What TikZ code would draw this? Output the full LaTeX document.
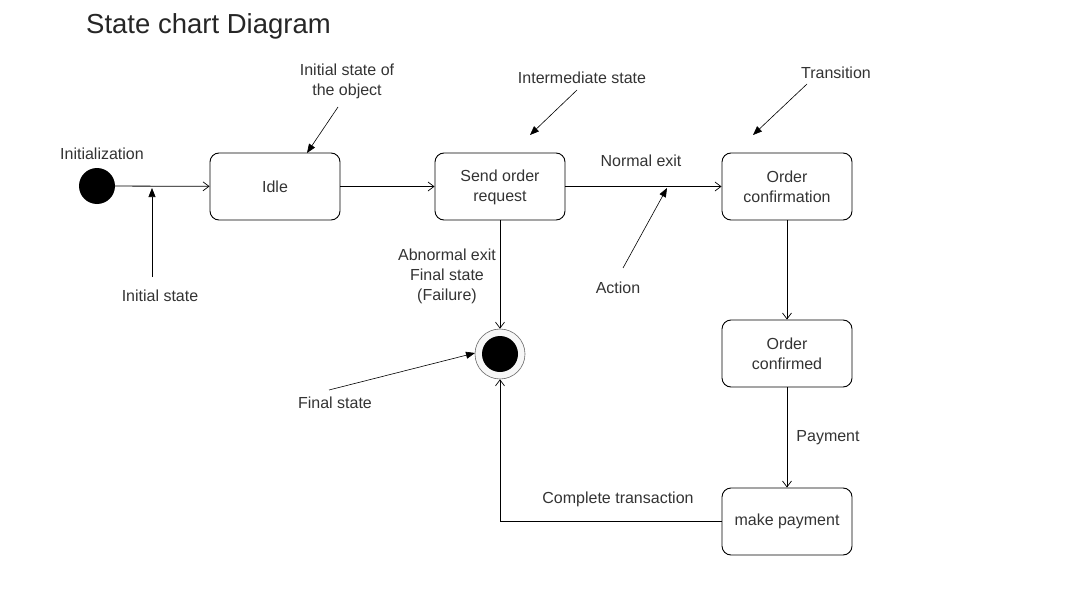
\documentclass[tikz,border=0pt]{standalone}
\usepackage{fontspec}
\setmainfont{Liberation Sans}
\usetikzlibrary{arrows.meta}
\definecolor{txt}{HTML}{333333}
\newcommand\lblfont{\fontsize{16}{20}\selectfont}
\newcommand\titlefont{\fontsize{27.5}{32}\selectfont}
\begin{document}
\begin{tikzpicture}[x=1pt,y=-1pt,
  every node/.append style={font=\lblfont, text=txt},
  statebox/.style={draw=black, line width=0.9pt, rounded corners=9pt, minimum width=130pt, minimum height=67pt, align=center, inner sep=0pt},
  trans/.style={draw=black, line width=0.8pt, -{Straight Barb[length=6pt,width=9pt,line width=0.7pt]}},
  note/.style={draw=black, line width=0.6pt, -{Triangle[length=9pt,width=7pt]}},
  lbl/.style={align=center, inner sep=0pt}]
\useasboundingbox (0,0) rectangle (1068,591);
\node[anchor=west, inner sep=0pt, font=\titlefont, text=black!85] (title) at (86,26) {State chart Diagram};

\node[circle, fill=black, minimum size=36pt, inner sep=0pt] (init) at (97,186) {};
\node[statebox] (idle) at (275,186.5) {Idle};
\node[statebox] (send) at (500,186.5) {\strut Send order\\request};
\node[statebox] (conf) at (787,186.5) {Order\\confirmation};
\node[statebox] (confd) at (787,353.5) {Order\\confirmed};
\node[statebox] (pay) at (787,521.5) {make payment};
\node[circle, draw=black!60, fill=black!3, line width=0.6pt, minimum size=50pt, inner sep=0pt] (fin) at (500,354) {};
\node[circle, fill=black, minimum size=36pt, inner sep=0pt] (finin) at (500,354) {};

\draw[trans] (init) -- (idle);
\draw[trans] (idle) -- (send);
\draw[trans] (send) -- (conf);
\draw[trans] (send) -- (fin);
\draw[trans] (conf) -- (confd);
\draw[trans] (confd) -- (pay);
\draw[trans] (pay.west) -| (fin.south);

\node[lbl] (lnormal) at (641,161) {Normal exit};
\node[lbl] (labn) at (447,276) {Abnormal exit\\Final state\\(Failure)};
\node[lbl] (lpayment) at (828,438) {Payment};
\node[lbl] (lcomplete) at (618,499) {Complete transaction};
\node[lbl] (linitz) at (102,154) {Initialization};

\node[lbl] (ninit) at (160,296) {Initial state};
\node[lbl] (nobj) at (347,81) {Initial state of\\the object};
\node[lbl] (ninter) at (582,78) {Intermediate state};
\node[lbl] (ntrans) at (836,73) {Transition};
\node[lbl] (naction) at (618,288) {Action};
\node[lbl] (nfinal) at (335,403) {Final state};

\coordinate (a1) at (152,188);
\coordinate (a2) at (307,153);
\coordinate (a3) at (530,135);
\coordinate (a4) at (753,135);
\coordinate (a5) at (667,188);
\coordinate (a6) at (475,353);

\draw[note] (152,277) -- (a1);
\draw[note] (338,107) -- (a2);
\draw[note] (577,90) -- (a3);
\draw[note] (807,84) -- (a4);
\draw[note] (623,268) -- (a5);
\draw[note] (329,390) -- (a6);
\end{tikzpicture}
\end{document}
